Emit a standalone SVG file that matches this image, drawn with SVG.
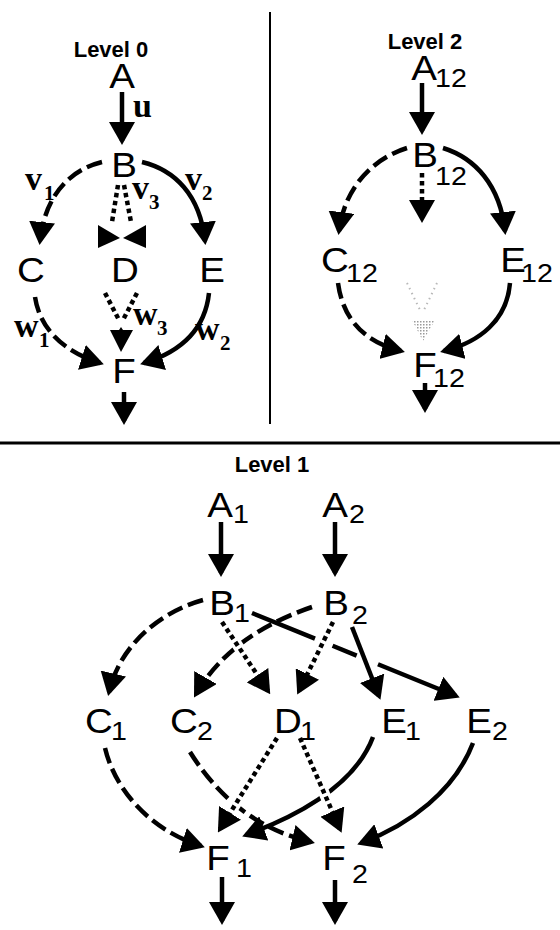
<svg xmlns="http://www.w3.org/2000/svg" width="560" height="930" viewBox="0 0 560 930">
<style>
.ln{fill:none;stroke:#000;stroke-width:4.5}
.da{stroke-dasharray:16 6}
.dt{stroke-dasharray:4.5 3.5}
.halo{fill:none;stroke:#fff;stroke-width:11}
.nd{font-family:"Liberation Sans",Arial,sans-serif;font-size:35px;fill:#000}
.sb{font-family:"Liberation Sans",Arial,sans-serif;font-size:26px;fill:#000}
.lb{font-family:"Liberation Serif","Times New Roman",serif;font-weight:bold;font-size:34px;fill:#000}
.ls{font-family:"Liberation Serif","Times New Roman",serif;font-weight:bold;font-size:21px;fill:#000}
.tt{font-family:"Liberation Sans",Arial,sans-serif;font-weight:bold;font-size:22px;fill:#000}
.div{stroke:#000;fill:none}
</style>
<defs>
<marker id="ah" markerUnits="userSpaceOnUse" markerWidth="23" markerHeight="26" viewBox="0 0 23 26" refX="19" refY="13" orient="auto">
<path d="M0,0 L23,13 L0,26 z" fill="#000"/>
</marker>
<pattern id="stip" width="3" height="3" patternUnits="userSpaceOnUse">
<rect x="0" y="0" width="1.5" height="1.5" fill="#9a9a9a"/>
</pattern>
</defs>

<g id="dividers">
<line class="div" x1="270" y1="12" x2="270" y2="424" stroke-width="2"/>
<line class="div" x1="0" y1="443" x2="560" y2="443" stroke-width="3"/>
</g>

<g id="titles">
<text class="tt" x="111" y="57" text-anchor="middle">Level 0</text>
<text class="tt" x="425" y="49" text-anchor="middle">Level 2</text>
<text class="tt" x="272" y="472" text-anchor="middle">Level 1</text>
</g>

<g id="connectors">
<!-- Level 0 -->
<path class="ln" d="M122,92 V141" marker-end="url(#ah)"/>
<path class="ln da" d="M102,162 C70,170 45,195 40,241" marker-end="url(#ah)"/>
<path class="ln" d="M142,162 C175,170 200,195 205,241" marker-end="url(#ah)"/>
<path class="ln dt" d="M118,185 L112,222"/>
<path class="ln dt" d="M124,185 L131,222"/>
<polygon points="98,225 98,248 120,238" fill="#000"/>
<polygon points="146,225 146,248 123,238" fill="#000"/>
<path class="ln da" d="M35,297 C40,330 65,352 100,363" marker-end="url(#ah)"/>
<path class="ln" d="M209,293 C205,330 180,352 144,363" marker-end="url(#ah)"/>
<path class="ln dt" d="M105,293 L119,320"/>
<path class="ln dt" d="M137,293 L123,320"/>
<polygon points="110,330 119,330 121,327 123,330 133,330 121,352" fill="#000"/>
<path class="ln" d="M124,392 V421" marker-end="url(#ah)"/>

<!-- Level 2 -->
<path class="ln" d="M422,83 V131" marker-end="url(#ah)"/>
<path class="ln da" d="M407,148 C375,158 345,185 339,231" marker-end="url(#ah)"/>
<path class="ln dt" d="M422,173 V219" marker-end="url(#ah)"/>
<path class="ln" d="M443,148 C475,158 500,185 505,231" marker-end="url(#ah)"/>
<path class="ln da" d="M338,283 C343,320 365,342 401,351" marker-end="url(#ah)"/>
<path class="ln" d="M510,283 C507,320 480,342 444,351" marker-end="url(#ah)"/>
<path d="M407,283 L420,310 M437,283 L424,310" fill="none" stroke="#b8b8b8" stroke-width="2" stroke-dasharray="1.5 4"/>
<polygon points="412,320 435,320 423,341" fill="url(#stip)"/>
<path class="ln" d="M425,383 V409" marker-end="url(#ah)"/>

<!-- Level 1 -->
<path class="ln" d="M221,522 V573" marker-end="url(#ah)"/>
<path class="ln" d="M335,522 V573" marker-end="url(#ah)"/>
<path class="ln da" d="M203,600 C160,612 120,645 109,692" marker-end="url(#ah)"/>
<path class="ln" d="M252,613 L456,696" stroke-dasharray="68 19 26 23 300" marker-end="url(#ah)"/>
<path class="ln da" d="M312,607 Q230,635 196,694" marker-end="url(#ah)"/>
<path class="ln" d="M352,627 L379,696" marker-end="url(#ah)"/>
<path class="halo" d="M222,622 L268,691"/>
<path class="ln dt" d="M222,622 L268,691" marker-end="url(#ah)"/>
<path class="halo" d="M333,622 L299,691"/>
<path class="ln dt" d="M333,622 L299,691" marker-end="url(#ah)"/>
<path class="ln da" d="M105,748 C115,790 150,830 201,846" marker-end="url(#ah)"/>
<path class="ln da" d="M190,752 C220,800 260,830 311,842" marker-end="url(#ah)"/>
<path class="ln" d="M373,737 C355,785 300,815 246,835" marker-end="url(#ah)"/>
<path class="ln" d="M473,743 C455,790 410,825 361,843" marker-end="url(#ah)"/>
<path class="halo" d="M277,738 L222,826"/>
<path class="ln dt" d="M277,738 L220,829" marker-end="url(#ah)"/>
<path class="halo" d="M300,738 L338,825"/>
<path class="ln dt" d="M300,738 L340,829" marker-end="url(#ah)"/>
<path class="ln" d="M222,877 V921" marker-end="url(#ah)"/>
<path class="ln" d="M335,880 V921" marker-end="url(#ah)"/>
</g>

<g id="labels">
<text class="lb" x="133" y="117">u</text>
<text class="lb" x="25" y="190">v</text><text class="ls" x="44" y="200">1</text>
<text class="lb" x="185" y="190">v</text><text class="ls" x="202" y="200">2</text>
<text class="lb" x="132" y="199">v</text><text class="ls" x="149" y="209">3</text>
<text class="lb" x="14" y="337">w</text><text class="ls" x="39" y="347">1</text>
<text class="lb" x="195" y="340">w</text><text class="ls" x="220" y="350">2</text>
<text class="lb" x="133" y="325">w</text><text class="ls" x="157" y="335">3</text>
</g>

<!-- Level 0 nodes -->
<g id="L0_A"><text class="nd" text-anchor="middle" transform="translate(122,88) scale(1.1,1)">A</text></g>
<g id="L0_B"><text class="nd" text-anchor="middle" transform="translate(124,177) scale(1.1,1)">B</text></g>
<g id="L0_C"><text class="nd" text-anchor="middle" transform="translate(31,282) scale(1.1,1)">C</text></g>
<g id="L0_D"><text class="nd" text-anchor="middle" transform="translate(125,282) scale(1.1,1)">D</text></g>
<g id="L0_E"><text class="nd" text-anchor="middle" transform="translate(212,282) scale(1.1,1)">E</text></g>
<g id="L0_F"><text class="nd" text-anchor="middle" transform="translate(124,383) scale(1.1,1)">F</text></g>

<!-- Level 2 nodes -->
<g id="L2_A12"><text class="nd" text-anchor="middle" transform="translate(424,80) scale(1.1,1)">A</text><text class="sb" transform="translate(435,87) scale(1.1,1)">12</text></g>
<g id="L2_B12"><text class="nd" text-anchor="middle" transform="translate(425,167) scale(1.1,1)">B</text><text class="sb" transform="translate(435,185) scale(1.1,1)">12</text></g>
<g id="L2_C12"><text class="nd" text-anchor="middle" transform="translate(335,272) scale(1.1,1)">C</text><text class="sb" transform="translate(346,282) scale(1.1,1)">12</text></g>
<g id="L2_E12"><text class="nd" text-anchor="middle" transform="translate(513,272) scale(1.1,1)">E</text><text class="sb" transform="translate(521,282) scale(1.1,1)">12</text></g>
<g id="L2_F12"><text class="nd" text-anchor="middle" transform="translate(425,377) scale(1.1,1)">F</text><text class="sb" transform="translate(433,387) scale(1.1,1)">12</text></g>

<!-- Level 1 nodes -->
<g id="L1_A1"><text class="nd" text-anchor="middle" transform="translate(220,517) scale(1.1,1)">A</text><text class="sb" transform="translate(233,523) scale(1.1,1)">1</text></g>
<g id="L1_A2"><text class="nd" text-anchor="middle" transform="translate(335,517) scale(1.1,1)">A</text><text class="sb" transform="translate(349,523) scale(1.1,1)">2</text></g>
<g id="L1_B1"><text class="nd" text-anchor="middle" transform="translate(222,615) scale(1.1,1)">B</text><text class="sb" transform="translate(234,622) scale(1.1,1)">1</text></g>
<g id="L1_B2"><text class="nd" text-anchor="middle" transform="translate(336,615) scale(1.1,1)">B</text><text class="sb" transform="translate(352,624) scale(1.1,1)">2</text></g>
<g id="L1_C1"><text class="nd" text-anchor="middle" transform="translate(99,733) scale(1.1,1)">C</text><text class="sb" transform="translate(111,740) scale(1.1,1)">1</text></g>
<g id="L1_C2"><text class="nd" text-anchor="middle" transform="translate(184,733) scale(1.1,1)">C</text><text class="sb" transform="translate(197,740) scale(1.1,1)">2</text></g>
<g id="L1_D1"><text class="nd" text-anchor="middle" transform="translate(288,733) scale(1.1,1)">D</text><text class="sb" transform="translate(300,740) scale(1.1,1)">1</text></g>
<g id="L1_E1"><text class="nd" text-anchor="middle" transform="translate(394,733) scale(1.1,1)">E</text><text class="sb" transform="translate(405,740) scale(1.1,1)">1</text></g>
<g id="L1_E2"><text class="nd" text-anchor="middle" transform="translate(479,733) scale(1.1,1)">E</text><text class="sb" transform="translate(492,740) scale(1.1,1)">2</text></g>
<g id="L1_F1"><text class="nd" text-anchor="middle" transform="translate(218,870) scale(1.1,1)">F</text><text class="sb" transform="translate(236,877) scale(1.1,1)">1</text></g>
<g id="L1_F2"><text class="nd" text-anchor="middle" transform="translate(334,870) scale(1.1,1)">F</text><text class="sb" transform="translate(352,883) scale(1.1,1)">2</text></g>
</svg>
